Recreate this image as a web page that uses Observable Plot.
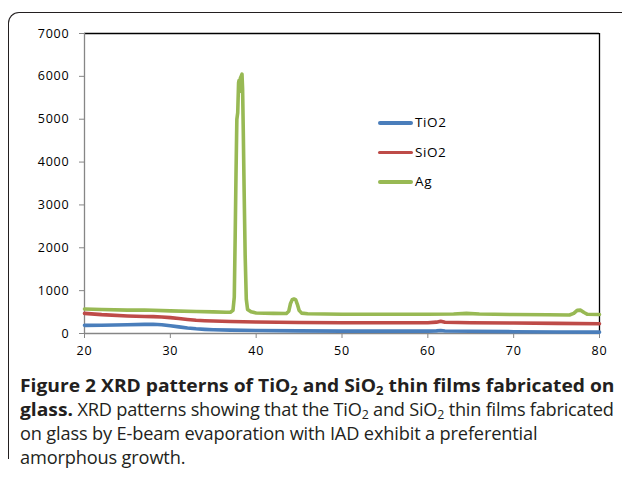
<!DOCTYPE html>
<html>
<head>
<meta charset="utf-8">
<script src="https://cdn.jsdelivr.net/npm/d3@7"></script>
<script src="https://cdn.jsdelivr.net/npm/@observablehq/plot@0.6"></script>
<style>
  html, body { margin: 0; padding: 0; background: #fff; }
  #wrap { position: relative; width: 622px; height: 481px; overflow: hidden; font-family: "Open Sans", sans-serif; }
  #frame { position: absolute; left: 8px; top: 12px; width: 640px; height: 446px;
           border-left: 1.6px solid #231f20; border-top: 1.6px solid #231f20; border-top-left-radius: 11px; }
  #chart { position: absolute; left: 0; top: 0; }
  #chart svg text { letter-spacing: 0.8px; }
  #legend { position: absolute; left: 378px; top: 112px; font-family: "Open Sans", sans-serif; font-size: 13.5px; letter-spacing: 0.6px; color: #000; }
  .li { position: relative; height: 29.5px; }
  .li span.sw { position: absolute; left: 0; top: 9px; width: 35px; height: 3.5px; border-radius: 2px; }
  .li span.tx { position: absolute; left: 37px; top: 0px; line-height: 20px; }
  #caption { position: absolute; left: 20px; top: 373px; white-space: nowrap; font-size: 18.5px; line-height: 24px; color: #231f20;
             transform: scaleX(1.04); transform-origin: 0 0; }
  #caption b { font-weight: 700; font-size: 18.5px; }
  #caption span.r { font-size: 17.5px; letter-spacing: -0.15px; }
  #caption span.r2 { letter-spacing: -0.22px; }
  sub { font-size: 0.68em; vertical-align: -0.25em; line-height: 0; }
</style>
</head>
<body>
<div id="wrap">
  <div id="frame"></div>
  <div id="chart"></div>
  <div id="legend"></div>
  <div id="caption"><b>Figure 2 XRD patterns of TiO<sub>2</sub> and SiO<sub>2</sub> thin films fabricated on</b><br><b>glass.</b><span class="r r2"> XRD patterns showing that the TiO<sub>2</sub> and SiO<sub>2</sub> thin films fabricated</span><br><span class="r">on glass by E-beam evaporation with IAD exhibit a preferential</span><br><span class="r">amorphous growth.</span></div>
</div>
<script>
// ---- data (2θ in degrees, intensity in counts) ----
const seriesNames = ["TiO2", "SiO2", "Ag"];
const seriesColors = ["#4a7ebb", "#be4b48", "#98b954"];

const tio2Theta = [20, 22, 25, 27, 28, 29, 30, 31, 32, 33, 34, 35, 37, 40, 45, 50, 55, 60, 61, 61.5, 62, 65, 70, 75, 80];
const tio2Int   = [190, 192, 205, 212, 215, 205, 180, 155, 130, 110, 97, 88, 78, 70, 62, 56, 55, 55, 62, 70, 60, 52, 42, 36, 32];

const sio2Theta = [20, 22, 25, 27, 28, 29, 30, 31, 32, 33, 34, 35, 37, 40, 45, 50, 55, 60, 61, 61.5, 62, 65, 70, 75, 80];
const sio2Int   = [470, 440, 410, 398, 394, 385, 370, 350, 328, 308, 298, 290, 280, 268, 258, 252, 252, 252, 265, 285, 262, 250, 244, 236, 228];

const agTheta = [20, 22, 25, 27, 30, 33, 35, 36.5, 37.0, 37.3, 37.45, 37.55, 37.65, 37.75, 37.85, 37.95, 38.0, 38.08, 38.15, 38.25, 38.35, 38.42, 38.5, 38.6, 38.72, 38.85, 39.0, 39.4, 40, 42, 43.5, 43.8, 44.0, 44.2, 44.4, 44.6, 44.8, 45.0, 45.3, 46, 50, 55, 60, 63, 64.5, 66, 70, 74, 76.5, 77.0, 77.4, 77.8, 78.2, 78.6, 80];
const agInt   = [570, 560, 545, 550, 527, 515, 504, 495, 495, 540, 850, 2200, 3700, 5000, 5150, 5850, 5900, 5650, 5950, 6000, 6050, 5700, 4700, 3300, 1800, 800, 560, 505, 480, 470, 465, 520, 700, 790, 805, 790, 680, 540, 475, 460, 450, 450, 450, 455, 470, 455, 442, 436, 433, 470, 540, 545, 490, 448, 442];

const xTicks = [20, 30, 40, 50, 60, 70, 80];
const yTicks = [0, 1000, 2000, 3000, 4000, 5000, 6000, 7000];

// ---- table for Plot ----
const rows = [];
[[tio2Theta, tio2Int], [sio2Theta, sio2Int], [agTheta, agInt]].forEach(([xs, ys], i) => {
  xs.forEach((x, j) => rows.push({series: seriesNames[i], theta: x, intensity: ys[j]}));
});

const chart = Plot.plot({
  width: 622,
  height: 370,
  marginLeft: 84,
  marginRight: 23,
  marginTop: 33,
  marginBottom: 37,
  style: {fontFamily: "Open Sans, sans-serif", fontSize: "12.5px", color: "#000", background: "transparent", overflow: "visible"},
  x: {domain: [20, 80], ticks: xTicks, label: null},
  y: {domain: [0, 7000], ticks: yTicks, label: null},
  color: {domain: seriesNames, range: seriesColors},
  marks: [
    Plot.ruleY([7000], {stroke: "#000", strokeWidth: 1.3}),
    Plot.ruleX([80], {stroke: "#000", strokeWidth: 1.3}),
    Plot.axisY({ticks: yTicks, tickSize: 5, tickPadding: 10, stroke: "#868686", tickFormat: d => String(d), fill: "#000"}),
    Plot.axisX({ticks: xTicks, tickSize: 5, tickPadding: 8, stroke: "#868686", tickFormat: d => String(d), fill: "#000"}),
    Plot.ruleX([20], {stroke: "#868686", strokeWidth: 1.3}),
    Plot.ruleY([0], {stroke: "#868686", strokeWidth: 1.3}),
    Plot.line(rows, {x: "theta", y: "intensity", z: "series", stroke: "series", strokeWidth: 3.6, curve: "linear", strokeLinejoin: "round"})
  ]
});
document.getElementById("chart").appendChild(chart);

// legend (HTML)
const legend = document.getElementById("legend");
seriesNames.forEach((n, i) => {
  const d = document.createElement("div");
  d.className = "li";
  d.innerHTML = `<span class="sw" style="background:${seriesColors[i]}"></span><span class="tx">${n}</span>`;
  legend.appendChild(d);
});
</script>
</body>
</html>
